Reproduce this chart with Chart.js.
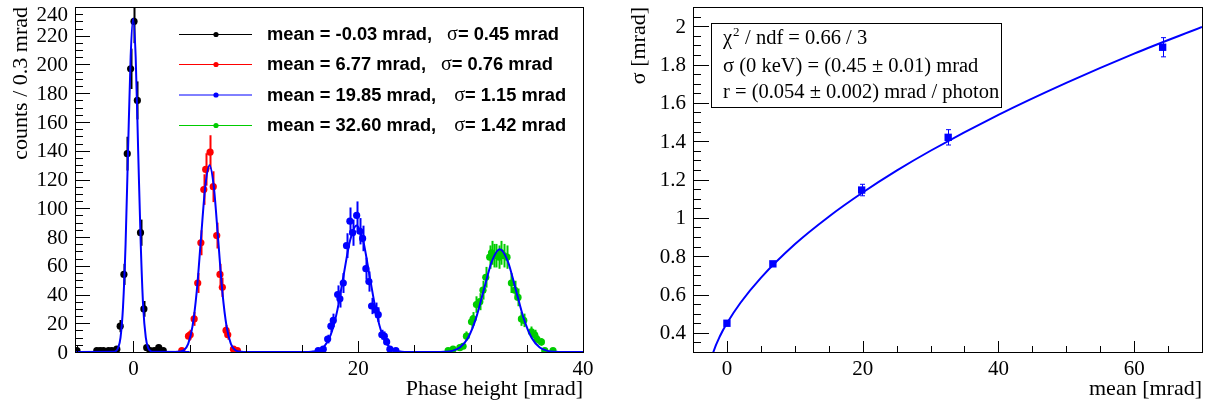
<!DOCTYPE html>
<html>
<head>
<meta charset="utf-8">
<script src="https://cdn.jsdelivr.net/npm/chart.js@4.4.0/dist/chart.umd.min.js"></script>
<style>
  body { margin: 0; background: #fff; }
  #wrap { position: relative; width: 1210px; height: 405px; }
  canvas { position: absolute; top: 0; }
</style>
</head>
<body>
<div id="wrap">
  <canvas id="left" width="600" height="405" style="left:0"></canvas>
  <canvas id="right" width="610" height="405" style="left:600px"></canvas>
</div>
<script>
// ---- left panel: histograms (counts per 0.3 mrad bin) ----
var blackX = [-5.03, -3.26, -2.96, -2.67, -2.22, -1.92, -1.48, -1.18, -0.85, -0.55, -0.25, 0.05, 0.35, 0.63, 0.93, 1.18, 1.48, 1.85, 2.25, 2.65];
var blackY = [1, 1, 1, 1, 1, 1, 2, 18, 54, 138, 197, 230, 175, 83, 30, 3, 1, 1, 3, 1];
var redX = [4.3, 4.9, 5.05, 5.4, 5.72, 6.0, 6.26, 6.43, 6.82, 7.1, 7.41, 7.7, 7.91, 8.24, 8.39, 8.9, 9.25];
var redY = [1, 11, 12, 23, 48, 76, 113, 127, 139, 115, 81, 54, 45, 15, 12, 2, 1];
var blueX = [16.44, 16.89, 17.28, 17.57, 17.78, 18.17, 18.37, 18.67, 18.96, 19.26, 19.5, 19.86, 20.15, 20.39, 20.68, 20.95, 21.19, 21.57, 21.78, 22.1, 22.32, 22.53, 22.82, 23.35];
var blueY = [1, 2, 9, 18, 22, 40, 37, 48, 74, 91, 83, 95, 84, 79, 58, 49, 32, 29, 26, 12, 11, 7, 2, 1];
var greenX = [28.0, 28.44, 29.04, 29.33, 29.63, 30.08, 30.22, 30.52, 30.82, 31.1, 31.35, 31.7, 31.86, 32.06, 32.3, 32.53, 32.74, 32.95, 33.24, 33.63, 33.93, 34.22, 34.52, 34.73, 35.41, 35.7, 35.9, 36.3, 36.6, 37.33];
var greenY = [1, 2, 3, 4, 11, 21, 23, 33, 35, 43, 52, 66, 69, 67, 67, 66, 69, 67, 66, 48, 43, 38, 23, 22, 14, 12, 9, 7, 1, 1];

// gaussian fit curves
var blackFitX = [-5.2, -1.83, -1.6, -1.38, -1.15, -0.93, -0.7, -0.48, -0.25, -0.03, 0.2, 0.42, 0.65, 0.87, 1.1, 1.32, 1.55, 1.77, 5];
var blackFitY = [0, 0.1, 0.5, 2.6, 10, 31, 75, 140, 205, 232, 205, 140, 75, 31, 10, 2.6, 0.5, 0.1, 0];
var redFitX = [2, 3.73, 4.11, 4.49, 4.87, 5.25, 5.63, 6.01, 6.39, 6.77, 7.15, 7.53, 7.91, 8.29, 8.67, 9.05, 9.43, 9.81, 15];
var redFitY = [0, 0.04, 0.3, 1.4, 5.7, 17.6, 42, 79, 115, 130, 115, 79, 42, 17.6, 5.7, 1.4, 0.3, 0.04, 0];
var blueFitX = [12, 15.25, 15.83, 16.4, 16.98, 17.55, 18.13, 18.7, 19.28, 19.85, 20.43, 21.0, 21.58, 22.15, 22.73, 23.3, 23.88, 24.45, 28];
var blueFitY = [0, 0.03, 0.2, 1.0, 3.9, 11.9, 28.6, 53.4, 77.7, 88, 77.7, 53.4, 28.6, 11.9, 3.9, 1.0, 0.2, 0.03, 0];
var greenFitX = [25, 26.92, 27.63, 28.34, 29.05, 29.76, 30.47, 31.18, 31.89, 32.6, 33.31, 34.02, 34.73, 35.44, 36.15, 36.86, 37.57, 38.28, 40];
var greenFitY = [0, 0.02, 0.16, 0.8, 3.1, 9.7, 23.2, 43.4, 63.1, 71.5, 63.1, 43.4, 23.2, 9.7, 3.1, 0.8, 0.16, 0.02, 0];

var legendLabels = ['mean = -0.03 mrad,', 'mean = 6.77 mrad,', 'mean = 19.85 mrad,', 'mean = 32.60 mrad,'];
var legendSigmas = ['= 0.45 mrad', '= 0.76 mrad', '= 1.15 mrad', '= 1.42 mrad'];
var leftXTicks = [0, 20, 40];
var leftYTicks = [0, 20, 40, 60, 80, 100, 120, 140, 160, 180, 200, 220, 240];

// ---- right panel: sigma vs mean ----
var meanX = [0, 6.77, 19.85, 32.6, 64.2];
var sigmaY = [0.45, 0.76, 1.145, 1.42, 1.89];
var sigmaErr = [0.01, 0.012, 0.03, 0.04, 0.05];
var fitX = [-2.6, -2, -1, 0, 2, 5, 10, 15, 20, 25, 30, 40, 50, 60, 70];
var fitY = [0.22, 0.3, 0.385, 0.45, 0.557, 0.687, 0.862, 1.006, 1.132, 1.246, 1.35, 1.537, 1.704, 1.857, 1.996];
var rightXTicks = [0, 20, 40, 60];
var rightYTicks = ['0.4', '0.6', '0.8', '1', '1.2', '1.4', '1.6', '1.8', '2'];
var statsLines = ['/ ndf = 0.66 / 3', 'σ (0 keV) = (0.45 ± 0.01) mrad', 'r = (0.054 ± 0.002) mrad / photon'];

var SERIF = '"Liberation Serif", "Times New Roman", serif';
var SANS = '"Liberation Sans", Arial, sans-serif';

function pts(xs, ys) {
  return xs.map(function (x, i) { return { x: x, y: ys[i] }; });
}

function histSet(xs, ys, col) {
  return { data: pts(xs, ys), showLine: false, pointRadius: 3.6, pointHoverRadius: 3.6,
    backgroundColor: col, borderColor: col, borderWidth: 0, order: 2, errCol: col };
}
function fitSet(xs, ys) {
  return { data: pts(xs, ys), showLine: true, pointRadius: 0, borderColor: '#0000ff',
    borderWidth: 2, cubicInterpolationMode: 'monotone', fill: false, order: 1 };
}

// ticks inside the frame, labels outside (ROOT style)
function drawFrame(chart, o) {
  var ctx = chart.ctx, a = chart.chartArea, sx = chart.scales.x, sy = chart.scales.y;
  ctx.save();
  ctx.strokeStyle = '#000';
  ctx.lineWidth = 1;
  ctx.strokeRect(Math.round(a.left) + 0.5, Math.round(a.top) + 0.5, Math.round(a.right - a.left), Math.round(a.bottom - a.top));
  ctx.beginPath();
  var i, v, p;
  for (i = 0; ; i++) {
    v = o.xFrom + i * o.xStep;
    if (v > sx.max + 1e-9) break;
    p = Math.round(sx.getPixelForValue(v)) + 0.5;
    var isMajX = o.xTicks.some(function (t) { return Math.abs(t - v) < 1e-6; });
    ctx.moveTo(p, a.bottom);
    ctx.lineTo(p, a.bottom - (isMajX ? o.xLen[0] : o.xLen[1]));
  }
  for (i = 0; ; i++) {
    v = o.yFrom + i * o.yStep;
    if (v > sy.max + 1e-9) break;
    p = Math.round(sy.getPixelForValue(v)) + 0.5;
    var isMajY = o.yTicks.some(function (t) { return Math.abs(parseFloat(t) - v) < 1e-6; });
    ctx.moveTo(a.left, p);
    ctx.lineTo(a.left + (isMajY ? o.yLen[0] : o.yLen[1]), p);
  }
  ctx.stroke();

  ctx.fillStyle = '#000';
  ctx.font = '21px ' + SERIF;
  ctx.textAlign = 'center';
  ctx.textBaseline = 'alphabetic';
  o.xTicks.forEach(function (t) {
    ctx.fillText(String(t), sx.getPixelForValue(t), a.bottom + 23);
  });
  ctx.textAlign = 'right';
  ctx.textBaseline = 'middle';
  o.yTicks.forEach(function (t) {
    var y = Math.max(sy.getPixelForValue(parseFloat(t)), a.top + 7);
    ctx.fillText(String(t), a.left - 7, y + 1);
  });

  // axis titles
  ctx.font = '22px ' + SERIF;
  ctx.textAlign = 'right';
  ctx.textBaseline = 'alphabetic';
  ctx.fillText(o.xTitle, a.right, 395);
  ctx.save();
  ctx.translate(o.yTitleX, a.top);
  ctx.rotate(-Math.PI / 2);
  ctx.textAlign = 'right';
  ctx.fillText(o.yTitle, 0, 0);
  ctx.restore();
  ctx.restore();
}

// error bars drawn from the library's scales
var errorBars = {
  id: 'errorBars',
  beforeDatasetsDraw: function (chart) {
    var ctx = chart.ctx, sx = chart.scales.x, sy = chart.scales.y, a = chart.chartArea;
    ctx.save();
    ctx.beginPath();
    ctx.rect(a.left, a.top, a.right - a.left, a.bottom - a.top);
    ctx.clip();
    chart.data.datasets.forEach(function (ds) {
      if (!ds.errCol) return;
      ctx.strokeStyle = ds.errCol;
      ctx.lineWidth = ds.errWidth || 2;
      ds.data.forEach(function (d, i) {
        var e = ds.errs ? ds.errs[i] : Math.sqrt(d.y);
        var px = Math.round(sx.getPixelForValue(d.x)) + 0.5;
        var y1 = sy.getPixelForValue(d.y - e), y2 = sy.getPixelForValue(d.y + e);
        ctx.beginPath();
        ctx.moveTo(px, y1);
        ctx.lineTo(px, y2);
        if (ds.errCap) {
          ctx.moveTo(px - ds.errCap, y1); ctx.lineTo(px + ds.errCap, y1);
          ctx.moveTo(px - ds.errCap, y2); ctx.lineTo(px + ds.errCap, y2);
        }
        ctx.stroke();
      });
    });
    ctx.restore();
  }
};

var leftDeco = {
  id: 'leftDeco',
  afterDraw: function (chart) {
    drawFrame(chart, {
      xFrom: -5, xStep: 5, xTicks: leftXTicks, xLen: [11, 7],
      yFrom: 0, yStep: 5, yTicks: leftYTicks, yLen: [15, 8],
      xTitle: 'Phase height [mrad]', yTitle: 'counts / 0.3 mrad', yTitleX: 27
    });
    // legend
    var ctx = chart.ctx;
    var cols = ['#000000', '#ff0000', '#0000ff', '#00cc00'];
    var rows = [34, 64, 94.5, 125];
    ctx.save();
    for (var i = 0; i < 4; i++) {
      var y = rows[i];
      ctx.strokeStyle = cols[i];
      ctx.lineWidth = 1;
      ctx.beginPath();
      ctx.moveTo(179, y + 0.5);
      ctx.lineTo(252, y + 0.5);
      ctx.stroke();
      ctx.fillStyle = cols[i];
      ctx.beginPath();
      ctx.arc(216, y + 0.5, 2.6, 0, Math.PI * 2);
      ctx.fill();
      ctx.fillStyle = '#000';
      ctx.textBaseline = 'middle';
      ctx.textAlign = 'left';
      ctx.font = 'bold 18.3px ' + SANS;
      ctx.fillText(legendLabels[i], 267, y + 1);
      var w = ctx.measureText(legendLabels[i]).width;
      var sx = 267 + w + (i < 2 ? 15 : 18);
      ctx.font = '20px ' + SERIF;
      ctx.fillText('σ', sx, y + 1);
      var sw = ctx.measureText('σ').width;
      ctx.font = 'bold 18.3px ' + SANS;
      ctx.fillText(legendSigmas[i], sx + sw, y + 1);
    }
    ctx.restore();
  }
};

var rightDeco = {
  id: 'rightDeco',
  afterDraw: function (chart) {
    drawFrame(chart, {
      xFrom: -5, xStep: 5, xTicks: rightXTicks, xLen: [11, 6],
      yFrom: 0.3, yStep: 0.05, yTicks: rightYTicks, yLen: [16, 8],
      xTitle: 'mean [mrad]', yTitle: 'σ [mrad]', yTitleX: 45
    });
    // fit statistics box
    var ctx = chart.ctx;
    ctx.save();
    ctx.fillStyle = '#fff';
    ctx.fillRect(111, 23, 290, 84);
    ctx.strokeStyle = '#000';
    ctx.lineWidth = 1;
    ctx.strokeRect(111.5, 23.5, 290, 84);
    ctx.fillStyle = '#000';
    ctx.textAlign = 'left';
    ctx.textBaseline = 'alphabetic';
    ctx.font = '20.5px ' + SERIF;
    ctx.fillText('χ', 123, 44);
    var cw = ctx.measureText('χ').width;
    ctx.font = '13px ' + SERIF;
    ctx.fillText('2', 123 + cw + 1, 36);
    ctx.font = '20.5px ' + SERIF;
    ctx.fillText(statsLines[0], 123 + cw + 13, 44);
    ctx.fillText(statsLines[1], 123, 72);
    ctx.fillText(statsLines[2], 123, 98);
    ctx.restore();
  }
};

new Chart(document.getElementById('left'), {
  type: 'scatter',
  data: {
    datasets: [
      fitSet(blackFitX, blackFitY),
      fitSet(redFitX, redFitY),
      fitSet(blueFitX, blueFitY),
      fitSet(greenFitX, greenFitY),
      histSet(blackX, blackY, '#000000'),
      histSet(redX, redY, '#ff0000'),
      histSet(blueX, blueY, '#0000ff'),
      histSet(greenX, greenY, '#00cc00')
    ]
  },
  options: {
    responsive: false,
    animation: false,
    events: [],
    layout: { padding: { left: 75, right: 17, top: 7, bottom: 53 } },
    plugins: { legend: { display: false }, tooltip: { enabled: false } },
    scales: {
      x: { type: 'linear', min: -5.2, max: 40, display: false },
      y: { type: 'linear', min: 0, max: 240, display: false }
    }
  },
  plugins: [errorBars, leftDeco]
});

new Chart(document.getElementById('right'), {
  type: 'scatter',
  data: {
    datasets: [
      fitSet(fitX, fitY),
      { data: pts(meanX, sigmaY), showLine: false, pointStyle: 'rect', pointRadius: 5.2,
        backgroundColor: '#0000ff', borderColor: '#0000ff', borderWidth: 0, order: 2,
        errCol: '#0000ff', errs: sigmaErr, errWidth: 1, errCap: 2.5 }
    ]
  },
  options: {
    responsive: false,
    animation: false,
    events: [],
    layout: { padding: { left: 93, right: 8, top: 7, bottom: 53 } },
    plugins: { legend: { display: false }, tooltip: { enabled: false } },
    scales: {
      x: { type: 'linear', min: -5, max: 70, display: false },
      y: { type: 'linear', min: 0.3, max: 2.1, display: false }
    }
  },
  plugins: [errorBars, rightDeco]
});
</script>
</body>
</html>
